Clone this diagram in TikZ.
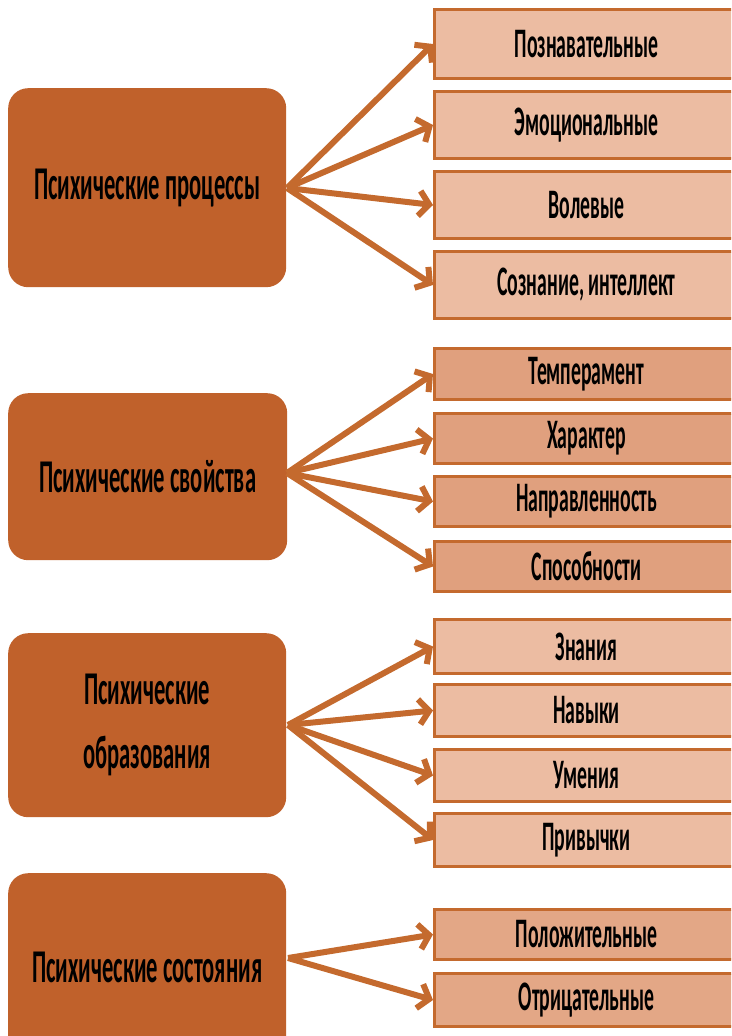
\documentclass[tikz,border=0pt]{standalone}
\usepackage{fontspec}
\setmainfont{Carlito}
\usepackage{graphicx}
\usetikzlibrary{arrows.meta}
\definecolor{dark}{HTML}{C0612B}
\definecolor{edge}{HTML}{C46A2E}
\definecolor{peachA}{HTML}{ECBCA2}
\definecolor{peachB}{HTML}{E0A07E}
\definecolor{peachC}{HTML}{E3A786}
\newcommand{\sq}[1]{\scalebox{0.47}[1]{#1}}
\newcommand{\sqc}[1]{\scalebox{0.48}[1]{#1}}
\tikzset{
  catbox/.style={fill=dark, rounded corners=20pt, inner sep=0pt, align=center,
    font=\fontsize{47}{64}\bfseries\selectfont},
  itembox/.style={fill=#1, draw=edge, line width=3pt, inner sep=0pt,
    font=\fontsize{42}{50}\bfseries\selectfont},
  conn/.style={draw=edge, line width=6pt, -{Straight Barb[length=10pt,width=25pt]}},
}
\begin{document}
\begin{tikzpicture}[x=1pt,y=-1pt]
\useasboundingbox (0,0) rectangle (731,1036);
\clip (0,0) rectangle (731,1036);
% left category boxes
\node[catbox, minimum width=278pt, minimum height=199pt, anchor=north west] (c1) at (8,88) {\sqc{Психические процессы}};
\node[catbox, minimum width=279pt, minimum height=167pt, anchor=north west] (c2) at (8,393) {\sqc{Психические свойства}};
\node[catbox, minimum width=278pt, minimum height=184pt, anchor=north west] (c3) at (8,633) {\sqc{Психические}\\\sqc{образования}};
\node[catbox, minimum width=278pt, minimum height=189pt, anchor=north west] (c4) at (8,873) {\sqc{Психические состояния}};
% right item boxes, group 1
\node[itembox=peachA, minimum width=304pt, minimum height=69pt, anchor=north west] (a1) at (433,8) {\sq{Познавательные}};
\node[itembox=peachA, minimum width=304pt, minimum height=67pt, anchor=north west] (a2) at (433,90) {\sq{Эмоциональные}};
\node[itembox=peachA, minimum width=304pt, minimum height=67pt, anchor=north west] (a3) at (433,170) {\sq{Волевые}};
\node[itembox=peachA, minimum width=304pt, minimum height=67pt, anchor=north west] (a4) at (433,250) {\sq{Сознание, интеллект}};
% group 2
\node[itembox=peachB, minimum width=304pt, minimum height=51pt, anchor=north west] (b1) at (433,347) {\sq{Темперамент}};
\node[itembox=peachB, minimum width=304pt, minimum height=50pt, anchor=north west] (b2) at (433,412) {\sq{Характер}};
\node[itembox=peachB, minimum width=304pt, minimum height=50pt, anchor=north west] (b3) at (433,475) {\sq{Направленность}};
\node[itembox=peachB, minimum width=304pt, minimum height=50pt, anchor=north west] (b4) at (433,540) {\sq{Способности}};
% group 3
\node[itembox=peachA, minimum width=304pt, minimum height=54pt, anchor=north west] (d1) at (433,618) {\sq{Знания}};
\node[itembox=peachA, minimum width=304pt, minimum height=52pt, anchor=north west] (d2) at (433,683) {\sq{Навыки}};
\node[itembox=peachA, minimum width=304pt, minimum height=52pt, anchor=north west] (d3) at (433,748) {\sq{Умения}};
\node[itembox=peachA, minimum width=304pt, minimum height=53pt, anchor=north west] (d4) at (433,812) {\sq{Привычки}};
% group 4
\node[itembox=peachC, minimum width=304pt, minimum height=50pt, anchor=north west] (e1) at (433,908) {\sq{Положительные}};
\node[itembox=peachC, minimum width=304pt, minimum height=53pt, anchor=north west] (e2) at (433,972) {\sq{Отрицательные}};
% origins
\coordinate (o1) at (287,188);
\coordinate (o2) at (287,473);
\coordinate (o3) at (288,725);
\coordinate (o4) at (288,958);
\foreach \t in {a1,a2,a3,a4} \draw[conn] (o1) -- (\t.west);
\foreach \t in {b1,b2,b3,b4} \draw[conn] (o2) -- (\t.west);
\foreach \t in {d1,d2,d3,d4} \draw[conn] (o3) -- (\t.west);
\foreach \t in {e1,e2} \draw[conn] (o4) -- (\t.west);
\end{tikzpicture}
\end{document}
